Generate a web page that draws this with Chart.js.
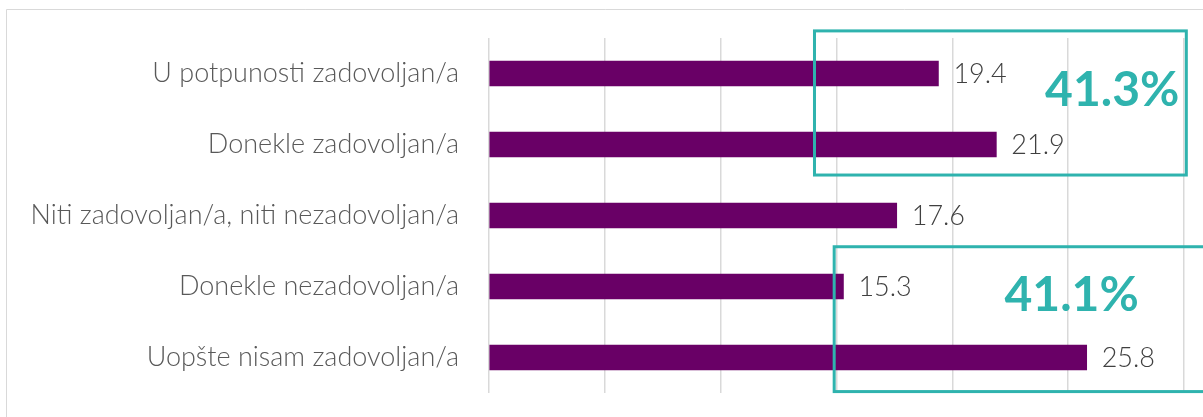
<!DOCTYPE html>
<html>
<head>
<meta charset="utf-8">
<script src="https://cdn.jsdelivr.net/npm/chart.js@4.4.1/dist/chart.umd.min.js"></script>
<style>
  html, body { margin: 0; padding: 0; background: #ffffff; }
  #wrap { position: relative; width: 1203px; height: 417px; overflow: hidden; }
  canvas { display: block; }
</style>
</head>
<body>
<div id="wrap"><canvas id="c" width="1203" height="417"></canvas></div>
<script>
const categories = [
  "U potpunosti zadovoljan/a",
  "Donekle zadovoljan/a",
  "Niti zadovoljan/a, niti nezadovoljan/a",
  "Donekle nezadovoljan/a",
  "Uopšte nisam zadovoljan/a"
];
const values = [19.4, 21.9, 17.6, 15.3, 25.8];
const valueLabels = ["19.4", "21.9", "17.6", "15.3", "25.8"];
const groupLabels = ["41.3%", "41.1%"];
const groupRanges = [[0, 1], [3, 4]];

const FONT = "Lato, 'Open Sans', sans-serif";

const extras = {
  id: 'extras',
  beforeDraw(chart) {
    const ctx = chart.ctx;
    ctx.save();
    ctx.fillStyle = '#ffffff';
    ctx.fillRect(0, 0, chart.width, chart.height);
    ctx.strokeStyle = '#d9d9d9';
    ctx.lineWidth = 1;
    ctx.beginPath();
    ctx.moveTo(6.5, 600);
    ctx.lineTo(6.5, 9.5);
    ctx.lineTo(1300, 9.5);
    ctx.stroke();
    ctx.restore();
  },
  afterDatasetsDraw(chart) {
    const ctx = chart.ctx;
    const meta = chart.getDatasetMeta(0);
    const x = chart.scales.x;
    const y = chart.scales.y;
    ctx.save();
    // value labels
    ctx.font = "300 27px " + FONT;
    ctx.fillStyle = '#404040';
    ctx.textAlign = 'left';
    ctx.textBaseline = 'middle';
    meta.data.forEach((bar, i) => {
      ctx.fillText(valueLabels[i], bar.x + 15, bar.y + 1);
    });
    // group boxes
    const step = y.getPixelForValue(1) - y.getPixelForValue(0);
    ctx.strokeStyle = '#2fb3ae';
    ctx.lineWidth = 3;
    const b1l = x.getPixelForValue(14.05), b1r = x.getPixelForValue(30.1);
    const b1t = y.getPixelForValue(groupRanges[0][0]) - step * 0.6;
    const b1b = y.getPixelForValue(groupRanges[0][1]) + step * 0.43;
    ctx.strokeRect(b1l, b1t, b1r - b1l, b1b - b1t);
    const b2l = x.getPixelForValue(14.9), b2r = x.getPixelForValue(31.0);
    const b2t = y.getPixelForValue(groupRanges[1][0]) - step * 0.56;
    const b2b = y.getPixelForValue(groupRanges[1][1]) + step * 0.48;
    ctx.strokeRect(b2l, b2t, b2r - b2l, b2b - b2t);
    // big labels
    ctx.font = "bold 48px " + FONT;
    ctx.fillStyle = '#2fb3ae';
    ctx.textAlign = 'center';
    ctx.textBaseline = 'alphabetic';
    ctx.fillText(groupLabels[0], x.getPixelForValue(26.9), y.getPixelForValue(0.45) + 1);
    ctx.fillText(groupLabels[1], x.getPixelForValue(25.15), y.getPixelForValue(3.1) + 17);
    ctx.restore();
  }
};

new Chart(document.getElementById('c'), {
  type: 'bar',
  data: {
    labels: categories,
    datasets: [{
      data: values,
      backgroundColor: '#690066',
      borderWidth: 0,
      barThickness: 25,
      categoryPercentage: 1,
      barPercentage: 1
    }]
  },
  options: {
    indexAxis: 'y',
    responsive: false,
    animation: false,
    events: [],
    layout: { padding: { left: 0, right: 19, top: 38, bottom: 24 } },
    plugins: {
      legend: { display: false },
      tooltip: { enabled: false },
      title: { display: false }
    },
    scales: {
      x: {
        min: 0, max: 30,
        afterFit(scale) { scale.height = 0; },
        ticks: { display: false, stepSize: 5 },
        grid: { color: '#d9d9d9', lineWidth: 1.5, drawTicks: false },
        border: { display: false }
      },
      y: {
        afterFit(scale) {
          scale.width = 489;
          scale.paddingTop = 0;
          scale.paddingBottom = 0;
        },
        grid: { display: false, drawTicks: false },
        border: { display: false },
        ticks: {
          padding: 30,
          color: '#595959',
          font: { family: FONT, size: 27, weight: '300' }
        }
      }
    }
  },
  plugins: [extras]
});
</script>
</body>
</html>
